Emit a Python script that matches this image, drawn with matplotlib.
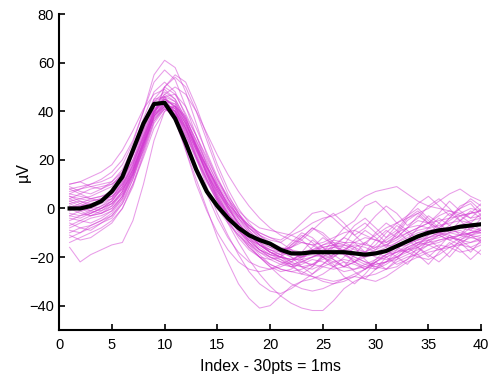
import numpy as np
import matplotlib
matplotlib.use("Agg")
import matplotlib.pyplot as plt

# Index 1..40 (30 pts = 1 ms)
idx = np.arange(1, 41)

# einzelne Spikes (uV)
spikes = [
    [8,9,10,12,15,20,28,40,55,61,58,48,35,22,12,4,-2,-8,-12,-15,-17,-16,-14,-15,-18,-20,-17,-14,-12,-13,-15,-12,-8,-5,-6,-8,-5,-2,0,-1],
    [-16,-22,-19,-17,-15,-14,-5,10,28,40,42,35,25,15,5,-3,-10,-16,-20,-24,-26,-25,-22,-20,-19,-21,-24,-22,-19,-17,-15,-16,-18,-15,-12,-10,-11,-13,-10,-8],
    [5,4,3,4,5,8,14,24,38,50,55,52,42,30,18,8,0,-6,-11,-15,-18,-14,-10,-12,-16,-19,-15,-9,-6,-10,-14,-11,-5,-2,-6,-10,-7,-3,-6,-9],
    [2,0,-2,0,3,9,18,30,42,47,44,36,25,14,4,-6,-14,-21,-27,-32,-36,-39,-41,-42,-42,-38,-33,-30,-28,-27,-25,-22,-20,-19,-17,-15,-16,-18,-17,-15],
    [-6,-8,-7,-5,-2,4,14,27,38,42,36,24,12,0,-12,-22,-31,-37,-41,-40,-36,-32,-30,-29,-27,-24,-22,-23,-25,-22,-19,-17,-18,-20,-21,-19,-16,-14,-12,-13],
    [10,11,9,8,10,14,22,33,45,50,47,39,30,21,12,5,-1,-5,-8,-9,-10,-11,-9,-6,-4,-3,-1,2,5,7,8,9,6,3,1,0,-1,-3,-2,-1],
    [0,-2,-3,-1,2,7,16,28,40,44,40,31,21,11,3,-4,-9,-13,-15,-17,-18,-19,-20,-18,-15,-13,-14,-16,-14,-11,-8,-6,-4,-2,0,3,6,8,5,3],
    [-3,-1,0,2,4,10,19,31,41,44,39,30,20,11,3,-3,-8,-12,-15,-17,-19,-15,-12,-8,-10,-14,-18,-13,-9,-12,-16,-10,-4,-1,-5,-9,-4,0,2,-3],
    [3,4,5,7,9,15,24,35,44,46,41,31,21,12,4,-2,-7,-11,-14,-16,-17,-16,-13,-9,-5,-2,-6,-11,-8,-3,1,-2,-7,-4,1,4,0,-5,-2,2],
    [-10,-8,-9,-6,-4,2,12,24,36,41,38,30,21,12,4,-3,-9,-14,-18,-21,-23,-24,-23,-21,-22,-24,-26,-25,-23,-21,-19,-18,-16,-14,-13,-12,-10,-9,-11,-12],
    [6,5,4,5,7,12,20,30,39,42,39,32,23,14,7,1,-4,-8,-11,-13,-14,-11,-13,-17,-20,-16,-12,-14,-18,-15,-10,-6,-9,-13,-8,-4,-7,-11,-6,-2],
    [-12,-10,-7,-5,-3,2,10,21,33,40,42,38,30,20,10,1,-7,-14,-19,-23,-25,-26,-25,-23,-20,-18,-19,-21,-23,-24,-22,-19,-16,-14,-15,-17,-15,-12,-10,-9],
    [9,7,6,8,11,16,25,37,48,52,48,38,26,14,4,-5,-12,-17,-20,-21,-20,-15,-11,-14,-18,-13,-8,-11,-15,-10,-6,-9,-13,-8,-3,-6,-10,-5,-1,-4],
    [-1,1,3,4,6,11,20,32,44,48,45,37,27,17,8,0,-6,-11,-15,-18,-20,-22,-24,-25,-23,-20,-17,-15,-16,-18,-20,-18,-15,-12,-10,-11,-13,-11,-8,-6],
    [-8,-6,-4,-3,-1,4,13,26,38,43,41,34,24,15,6,-2,-8,-13,-17,-19,-20,-17,-21,-24,-19,-15,-18,-22,-25,-21,-17,-20,-23,-18,-13,-16,-20,-15,-11,-14],
    [4,6,8,9,10,13,19,29,40,47,50,47,40,31,22,14,7,1,-4,-8,-11,-13,-14,-15,-14,-12,-10,-9,-11,-13,-14,-12,-10,-8,-6,-3,-1,-2,-4,-3],
    [1,0,-1,1,3,8,17,29,40,45,42,33,22,12,3,-5,-11,-16,-20,-23,-25,-26,-27,-28,-29,-30,-29,-27,-25,-23,-22,-21,-19,-17,-15,-14,-12,-11,-10,-9],
    [-4,-5,-6,-4,-1,5,15,28,40,44,40,29,17,6,-4,-12,-18,-22,-24,-25,-24,-22,-20,-19,-20,-22,-24,-25,-24,-22,-20,-18,-17,-16,-14,-11,-9,-8,-9,-10],
    [7,8,9,10,11,15,22,32,42,45,42,35,26,17,9,2,-3,-7,-10,-12,-13,-10,-6,-2,-1,-4,-8,-5,1,3,-1,-6,-3,2,5,1,-3,0,4,1],
    [-14,-12,-10,-8,-5,0,9,22,35,41,40,33,24,15,6,-2,-9,-15,-20,-24,-28,-31,-33,-34,-33,-31,-29,-28,-29,-30,-28,-25,-22,-20,-18,-17,-16,-15,-14,-13],
    [2,3,1,0,2,6,14,26,39,46,47,42,33,23,13,4,-4,-10,-15,-18,-20,-21,-21,-20,-18,-16,-15,-16,-18,-20,-21,-20,-18,-16,-13,-11,-10,-11,-12,-11],
    [-5,-3,-2,0,3,9,18,30,41,45,43,35,25,16,8,1,-5,-10,-14,-17,-19,-22,-18,-13,-16,-21,-24,-19,-14,-17,-12,-7,-10,-15,-11,-6,-2,-5,-9,-4],
    [5,3,2,3,5,10,18,29,40,43,38,28,17,8,0,-6,-11,-15,-18,-20,-21,-24,-21,-17,-20,-24,-20,-16,-21,-25,-22,-17,-13,-16,-20,-16,-11,-14,-18,-13],
    [-2,-3,-1,1,4,11,22,35,45,46,38,24,10,-1,-10,-17,-22,-25,-26,-25,-23,-21,-19,-18,-17,-16,-17,-18,-19,-18,-16,-14,-12,-10,-9,-10,-12,-13,-11,-9],
    [0,2,4,5,6,10,17,27,37,41,39,33,25,17,10,3,-3,-8,-12,-15,-17,-20,-24,-27,-23,-19,-22,-26,-29,-25,-20,-23,-21,-16,-19,-22,-18,-13,-16,-19],
    [-9,-10,-8,-6,-3,3,12,25,38,44,43,36,26,16,7,-1,-7,-12,-16,-19,-21,-23,-24,-23,-21,-19,-18,-20,-22,-23,-22,-20,-17,-14,-12,-10,-9,-10,-11,-10],
    [3,1,-1,-2,0,5,13,25,37,42,40,33,24,15,7,0,-6,-11,-15,-18,-19,-16,-12,-8,-11,-15,-12,-7,-4,-8,-12,-9,-3,0,-4,-8,-4,1,3,-1],
    [6,8,10,11,13,18,27,40,52,57,53,42,30,18,8,0,-6,-11,-15,-18,-20,-21,-20,-18,-16,-15,-16,-18,-20,-19,-17,-14,-11,-9,-8,-7,-6,-5,-6,-7],
    [-7,-5,-3,-2,0,5,14,26,38,43,41,35,26,17,9,2,-4,-9,-13,-16,-18,-20,-22,-23,-24,-25,-24,-22,-20,-18,-17,-16,-15,-13,-11,-9,-8,-7,-8,-9],
    [1,-1,-3,-2,1,7,16,28,40,45,42,33,21,9,-2,-11,-19,-26,-31,-34,-35,-33,-30,-27,-24,-22,-21,-22,-24,-25,-23,-20,-17,-15,-14,-13,-12,-13,-14,-12],
    [8,6,4,3,4,8,16,27,38,42,40,34,26,17,9,2,-3,-7,-10,-12,-14,-17,-20,-16,-12,-15,-19,-22,-18,-13,-9,-12,-8,-3,-6,-2,3,-1,-4,0],
    [-11,-13,-12,-9,-6,0,10,23,36,42,42,37,28,18,9,1,-6,-12,-17,-20,-22,-23,-22,-20,-18,-17,-18,-20,-22,-24,-25,-24,-21,-18,-15,-13,-12,-11,-10,-10],
    [0,1,2,3,5,9,16,26,39,50,54,50,40,28,16,6,-2,-9,-14,-18,-20,-21,-19,-17,-15,-14,-15,-17,-18,-16,-13,-10,-8,-7,-8,-10,-9,-7,-5,-4],
    [-3,-4,-2,0,2,7,15,27,39,43,40,32,22,13,5,-2,-8,-13,-17,-20,-22,-24,-26,-28,-30,-31,-30,-28,-25,-22,-19,-16,-14,-13,-12,-11,-13,-15,-16,-14],
    [10,11,13,15,18,24,32,41,47,49,45,37,28,19,11,4,-2,-7,-11,-14,-16,-17,-18,-17,-16,-15,-14,-14,-15,-16,-15,-13,-10,-8,-6,-5,-4,-3,-2,-1],
    [4,2,0,-1,1,6,15,27,40,46,44,36,25,14,5,-3,-9,-14,-17,-19,-20,-23,-27,-24,-20,-23,-28,-31,-27,-22,-25,-21,-16,-19,-23,-18,-14,-17,-21,-17],
]

# Mittelwert (schwarze Linie)
mean_wave = [0,0,1,3,7,13,24,35,43,43.5,37,27,16,7,1,-4,-8,-11,-13,-14.5,-17,-18.5,-18.5,-18,-18,-18,-18,-18.5,-19,-18.5,-17.5,-15.5,-13.5,-11.5,-10,-9,-8.5,-7.5,-7,-6.5]

plt.rcParams['font.family'] = ['Liberation Sans', 'DejaVu Sans']

fig = plt.figure(figsize=(4.92, 3.81), dpi=100)
ax = fig.add_axes([0.12, 0.134, 0.858, 0.829])

for s in spikes:
    ax.plot(idx, s, color="#d23ad2", alpha=0.5, linewidth=0.75)

ax.plot(idx, mean_wave, color="black", linewidth=3, solid_joinstyle="round")

ax.set_xlim(0, 40)
ax.set_ylim(-50, 80)
ax.set_xticks(range(0, 41, 5))
ax.set_yticks(range(-40, 81, 20))

ax.spines["top"].set_visible(False)
ax.spines["right"].set_visible(False)
ax.spines["left"].set_linewidth(1.5)
ax.spines["bottom"].set_linewidth(1.5)
ax.tick_params(direction="in", length=4, width=1.2, labelsize=10.5)
ax.tick_params(axis="x", pad=6)

ax.set_xlabel("Index - 30pts = 1ms", fontsize=11.5, labelpad=5)
ax.set_ylabel("µV", fontsize=11.5, labelpad=-1)

fig.savefig("out.png", dpi=100)
